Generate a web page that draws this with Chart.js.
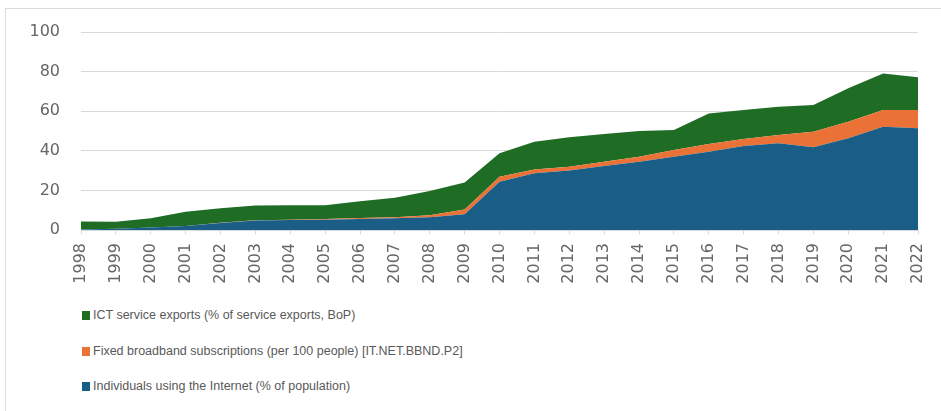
<!DOCTYPE html>
<html>
<head>
<meta charset="utf-8">
<script src="https://cdn.jsdelivr.net/npm/chart.js@4"></script>
<style>
    html, body { margin: 0; padding: 0; background: #fff; overflow: hidden; }
    body { width: 941px; height: 411px; position: relative; }
    #marco {
        position: absolute; left: 5px; top: 8px; width: 1000px; height: 500px;
        border-top: 1px solid #dcdcdc; border-left: 1px solid #dcdcdc;
    }
    #contenedor { position: absolute; left: 0; top: 0; width: 941px; height: 290px; }
    #leyenda {
        position: absolute; left: 82px; top: 306px; margin: 0; padding: 0; list-style: none;
        font-family: "Liberation Sans", Arial, sans-serif; font-size: 12.5px; color: #595959;
    }
    #leyenda li { height: 35.5px; display: flex; align-items: flex-start; line-height: 18px; }
    #leyenda span.caja { width: 8px; height: 9px; display: inline-block; margin: 5px 3px 0 0; }
</style>
</head>
<body>
<div id="marco"></div>
<div id="contenedor"><canvas id="graficoTIC"></canvas></div>
<ul id="leyenda"></ul>
<script>
const anios = ['1998', '1999', '2000', '2001', '2002', '2003', '2004', '2005', '2006', '2007', '2008', '2009',
    '2010', '2011', '2012', '2013', '2014', '2015', '2016', '2017', '2018', '2019', '2020', '2021', '2022'];

// Individuals using the Internet (% of population)
const usuariosInternet = [0.3, 0.6, 1.2, 2.0, 3.5, 4.8, 5.0, 5.2, 5.6, 5.9, 6.4, 8.0,
    24.4, 28.6, 30.0, 32.3, 34.5, 37.0, 39.5, 42.4, 43.8, 41.8, 46.3, 52.2, 51.4];

// Fixed broadband subscriptions (per 100 people)
const bandaAncha = [0, 0, 0, 0, 0.1, 0.1, 0.2, 0.3, 0.4, 0.6, 1.0, 2.3,
    2.5, 2.0, 2.0, 2.2, 2.5, 3.4, 3.9, 3.6, 4.2, 7.8, 8.4, 8.4, 9.2];

// ICT service exports (% of service exports, BoP)
const exportacionesTIC = [4.0, 3.6, 4.7, 7.2, 7.4, 7.5, 7.3, 7.0, 8.5, 9.8, 12.3, 13.7,
    11.8, 14.0, 14.8, 14.0, 13.0, 10.1, 15.5, 14.6, 14.3, 13.5, 16.9, 18.5, 16.5];

const marcasY = [0, 20, 40, 60, 80, 100];

const series = [
    { nombre: 'Individuals using the Internet (% of population)', datos: usuariosInternet, color: '#1a5e87' },
    { nombre: 'Fixed broadband subscriptions (per 100 people) [IT.NET.BBND.P2]', datos: bandaAncha, color: '#ea7236' },
    { nombre: 'ICT service exports (% of service exports, BoP)', datos: exportacionesTIC, color: '#1f6d25' }
];

const colorTexto = '#666666';
const fuenteEjes = { family: '"DejaVu Sans", sans-serif', size: 16 };

const ctx = document.getElementById('graficoTIC').getContext('2d');

new Chart(ctx, {
    type: 'line',
    data: {
        labels: anios,
        datasets: series.map((s, i) => ({
            label: s.nombre,
            data: s.datos,
            backgroundColor: s.color,
            borderColor: s.color,
            borderWidth: 0,
            pointRadius: 0,
            tension: 0,
            fill: i === 0 ? 'origin' : '-1'
        }))
    },
    options: {
        responsive: true,
        maintainAspectRatio: false,
        animation: false,
        layout: { padding: { left: 0, right: 23, top: 32, bottom: 0 } },
        plugins: {
            legend: { display: false },
            tooltip: { enabled: false }
        },
        scales: {
            x: {
                offset: false,
                grid: { display: true, drawOnChartArea: false, tickLength: 4, color: '#d9d9d9' },
                border: { display: true, color: '#d9d9d9' },
                ticks: {
                    color: colorTexto, font: fuenteEjes, padding: 9,
                    minRotation: 90, maxRotation: 90, autoSkip: false
                },
                afterFit: escala => {
                    escala.height = 60;
                    // el margen lo fija layout.padding, no la última etiqueta
                    escala.paddingLeft = 0;
                    escala.paddingRight = 0;
                }
            },
            y: {
                stacked: true,
                min: 0,
                max: 100,
                afterBuildTicks: escala => { escala.ticks = marcasY.map(v => ({ value: v })); },
                grid: { color: '#d9d9d9', drawTicks: false },
                border: { display: false },
                ticks: { color: colorTexto, font: fuenteEjes, padding: 21 },
                afterFit: escala => { escala.width = 81; }
            }
        }
    }
});

// Leyenda vertical, en orden inverso al apilado
const leyenda = document.getElementById('leyenda');
series.slice().reverse().forEach(s => {
    const item = document.createElement('li');
    const caja = document.createElement('span');
    caja.className = 'caja';
    caja.style.background = s.color;
    item.appendChild(caja);
    item.appendChild(document.createTextNode(s.nombre));
    leyenda.appendChild(item);
});
</script>
</body>
</html>
